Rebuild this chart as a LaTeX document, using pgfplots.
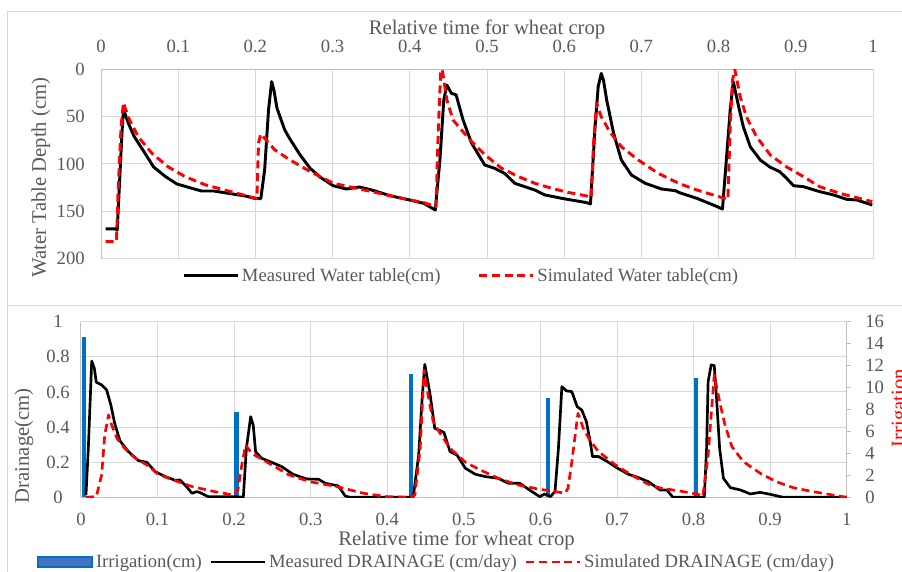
\documentclass[border=0pt]{standalone}
\usepackage{pgfplots}
\pgfplotsset{compat=1.18}
\usepackage{fontspec}
\setmainfont{Liberation Serif}

\definecolor{gridc}{HTML}{D9D9D9}
\definecolor{axc}{HTML}{BFBFBF}
\definecolor{txt}{HTML}{595959}
\definecolor{irr}{HTML}{0070C0}
\definecolor{irrfill}{HTML}{4472C4}

\pgfplotsset{
  base/.style={
    scale only axis, xmin=0, xmax=1,
    /pgf/number format/assume math mode=true,
    scaled ticks=false,
    tick label style={font=\fontsize{14}{16}\selectfont, text=txt, inner sep=0pt},
    label style={font=\fontsize{15.5}{18}\selectfont, text=txt},
    major tick length=0pt,
    axis line style={axc, line width=0.75pt},
    grid style={gridc, line width=0.75pt},
    legend style={draw=none, fill=none, font=\fontsize{14}{16}\selectfont,
      text=txt, legend columns=-1},
    legend cell align=left,
  },
  lineleg/.style={legend image code/.code={\draw[##1] (0pt,0pt) -- (40.5pt,0pt);}},
  meas/.style={black, line width=2.2pt, line join=round, lineleg},
  simu/.style={red, line width=2.2pt, dash pattern=on 6pt off 3.5pt, line join=round, lineleg},
}

\begin{document}
\begin{tikzpicture}
\useasboundingbox (0,0) rectangle (676.5pt,428.25pt);
\draw[gridc, line width=0.75pt] (5.25pt,419.5pt) -- (690pt,419.5pt);
\draw[gridc, line width=0.75pt] (5.25pt,419.5pt) -- (5.25pt,-5pt);
\draw[gridc, line width=0.75pt] (5.25pt,199pt) -- (690pt,199pt);

% top panel: water table depth
\begin{axis}[base,
  at={(365.25pt,305.25pt)}, anchor=center,
  width=579pt, height=142pt,
  ymin=0, ymax=200, y dir=reverse,
  axis x line*=top, axis y line*=left,
  grid=major,
  xtick={0,0.1,0.2,0.3,0.4,0.5,0.6,0.7,0.8,0.9,1},
  ytick={0,50,100,150,200},
  xticklabel style={yshift=12.5pt},
  yticklabel style={xshift=-12pt},
  xlabel={Relative time for wheat crop},
  xlabel style={at={(axis description cs:0.5,1.185)}, anchor=base},
  ylabel={Water Table Depth (cm)},
  ylabel style={at={(axis description cs:-0.0777,0.429)}, anchor=center},
  legend style={at={(axis description cs:0.467,-0.091)}, anchor=center,
    /tikz/every even column/.append style={column sep=26pt}},
]
\addplot[meas] coordinates {
(0.006,168.6) (0.019,168.6) (0.021,170) (0.024,120) (0.027,70) (0.029,42.3)
(0.036,58) (0.043,71) (0.057,88.7) (0.068,103) (0.083,113) (0.098,121)
(0.113,124.6) (0.130,128.5) (0.146,128.5) (0.165,131) (0.187,133.8) (0.199,136.3)
(0.207,136.6) (0.212,106) (0.217,43) (0.221,13) (0.224,22) (0.228,41.2)
(0.238,64) (0.245,74) (0.258,90.5) (0.271,104.6) (0.284,114) (0.301,123)
(0.318,126.4) (0.335,124.3) (0.353,128) (0.374,133.4) (0.396,137.3) (0.418,141.5)
(0.433,148.6) (0.439,96) (0.444,32.4) (0.448,16.6) (0.454,25.4) (0.460,27)
(0.469,53.5) (0.480,78) (0.497,101) (0.510,104.6) (0.523,110) (0.536,120.4)
(0.549,124) (0.562,127.5) (0.575,132.7) (0.597,136.3) (0.614,138.7) (0.629,140.8)
(0.634,142.2) (0.640,60.6) (0.644,18.3) (0.648,4.3) (0.651,12) (0.655,32.4)
(0.664,67.6) (0.674,95.8) (0.687,111.6) (0.705,120.4) (0.726,126.4) (0.744,128.2)
(0.750,130.5) (0.772,136.3) (0.793,143.3) (0.805,147.5) (0.810,95.8) (0.815,43)
(0.819,13) (0.826,39.5) (0.832,60.6) (0.841,81.7) (0.854,95.8) (0.867,103.5)
(0.879,108) (0.888,115) (0.897,122.9) (0.910,124) (0.931,129.2) (0.949,132.7)
(0.966,137.3) (0.979,138) (0.999,143.3)
};
\addlegendentry{Measured Water table(cm)}
\addplot[simu] coordinates {
(0.006,182) (0.020,182) (0.022,131) (0.026,60.6) (0.029,35.2) (0.035,50)
(0.048,71) (0.066,88.7) (0.087,103) (0.109,113.4) (0.135,122) (0.165,128.5)
(0.197,135.5) (0.202,136.3) (0.204,78) (0.207,68.3) (0.225,85) (0.245,95.8)
(0.271,108) (0.301,120.4) (0.331,125.7) (0.361,131) (0.396,137.3) (0.418,140.8)
(0.434,145) (0.437,60.6) (0.440,4) (0.442,0) (0.448,32.4) (0.456,53.5)
(0.469,66) (0.482,78) (0.497,90) (0.519,104.6) (0.541,113.4) (0.562,120.4)
(0.584,125.7) (0.605,130) (0.627,133.4) (0.635,135.2) (0.638,78) (0.642,35.9)
(0.648,50) (0.659,66) (0.674,81.7) (0.696,95.8) (0.722,110) (0.750,121)
(0.772,127.5) (0.793,132.7) (0.812,137.3) (0.815,60.6) (0.818,11.3) (0.821,0)
(0.828,29) (0.836,50) (0.849,71) (0.867,90.5) (0.888,103) (0.910,113.4)
(0.931,124) (0.957,131) (0.999,139.8)
};
\addlegendentry{Simulated Water table(cm)}
\end{axis}

% bottom panel: grid and left axis
\begin{axis}[base,
  at={(347.89pt,121.125pt)}, anchor=center,
  width=574.3pt, height=131.7pt,
  ymin=0, ymax=1,
  axis x line*=bottom, axis y line*=left,
  grid=major,
  xtick={0,0.1,0.2,0.3,0.4,0.5,0.6,0.7,0.8,0.9,1},
  ytick={0,0.2,0.4,0.6,0.8,1},
  xticklabel style={yshift=-12pt},
  yticklabel style={anchor=center, xshift=-17.25pt},
  xlabel={Relative time for wheat crop},
  xlabel style={at={(axis description cs:0.4904,-0.277)}, anchor=base},
  ylabel={Drainage(cm)},
  ylabel style={at={(axis description cs:-0.0744,0.293)}, anchor=center},
]
\end{axis}

% bottom panel: irrigation on the right axis
\begin{axis}[base,
  at={(347.89pt,121.125pt)}, anchor=center,
  width=574.3pt, height=131.7pt,
  ymin=0, ymax=16,
  axis x line=none, axis y line*=right,
  ytick={0,2,4,6,8,10,12,14,16},
  tick align=outside, major tick length=3.25pt,
  ytick style={axc, line width=0.75pt},
  yticklabel style={anchor=west, xshift=10.5pt},
  ylabel={Irrigation},
  ylabel style={text=red, at={(axis description cs:1.0767,0.508)}, anchor=base},
]
\addplot[ycomb, irr, line width=3.2pt, mark=none] coordinates {
(0.004,14.58) (0.203,7.8) (0.431,11.2) (0.610,9.08) (0.803,10.84)
};
\end{axis}

% bottom panel: drainage curves
\begin{axis}[base,
  at={(347.89pt,121.125pt)}, anchor=center,
  width=574.3pt, height=131.7pt,
  ymin=0, ymax=1, hide axis,
  legend style={at={(axis description cs:0.465,-0.368)}, anchor=center,
    /tikz/every even column/.append style={column sep=4pt}},
]
\addlegendimage{legend image code/.code={\draw[irr, fill=irrfill, line width=1.5pt] (0pt,-3.5pt) rectangle (40.5pt,3.5pt);}}
\addlegendentry{Irrigation(cm)}
\addplot[meas, line width=2pt] coordinates {
(0.0065,0.013) (0.0096,0.28) (0.014,0.776) (0.0174,0.735) (0.020,0.655) (0.027,0.64)
(0.0335,0.611) (0.039,0.526) (0.044,0.421) (0.051,0.321) (0.062,0.26) (0.075,0.209)
(0.086,0.199) (0.097,0.146) (0.110,0.118) (0.123,0.097) (0.129,0.099) (0.136,0.07)
(0.145,0.023) (0.151,0.032) (0.155,0.028) (0.166,0.004) (0.197,0.004) (0.208,0.002)
(0.212,0) (0.216,0.279) (0.2216,0.459) (0.225,0.41) (0.228,0.26) (0.236,0.222)
(0.247,0.203) (0.262,0.175) (0.277,0.131) (0.295,0.104) (0.310,0.103) (0.319,0.08)
(0.336,0.065) (0.345,0.008) (0.351,0) (0.430,0) (0.434,0.004) (0.441,0.241)
(0.4455,0.564) (0.449,0.757) (0.456,0.583) (0.462,0.393) (0.474,0.37) (0.482,0.26)
(0.491,0.241) (0.502,0.165) (0.515,0.131) (0.528,0.118) (0.545,0.108) (0.558,0.08)
(0.573,0.08) (0.589,0.032) (0.599,0.004) (0.606,0.019) (0.613,0.004) (0.619,0.032)
(0.6235,0.279) (0.628,0.63) (0.634,0.606) (0.641,0.602) (0.648,0.516) (0.654,0.497)
(0.660,0.431) (0.665,0.317) (0.668,0.232) (0.676,0.232) (0.689,0.199) (0.701,0.165)
(0.715,0.131) (0.728,0.112) (0.741,0.089) (0.756,0.042) (0.765,0.042) (0.773,0)
(0.814,0) (0.817,0.279) (0.819,0.659) (0.823,0.754) (0.827,0.75) (0.830,0.564)
(0.834,0.279) (0.839,0.108) (0.848,0.055) (0.861,0.042) (0.874,0.019) (0.887,0.028)
(0.900,0.017) (0.917,0) (1.0,0)
};
\addlegendentry{Measured DRAINAGE (cm/day)}
\addplot[simu, line width=2pt] coordinates {
(0.0065,0) (0.020,0.004) (0.027,0.127) (0.031,0.355) (0.036,0.469) (0.040,0.412)
(0.047,0.336) (0.057,0.279) (0.070,0.226) (0.086,0.184) (0.101,0.131) (0.123,0.095)
(0.145,0.061) (0.175,0.032) (0.199,0.013) (0.205,0.042) (0.210,0.184) (0.215,0.298)
(0.223,0.25) (0.247,0.19) (0.272,0.127) (0.299,0.089) (0.334,0.061) (0.369,0.023)
(0.399,0.004) (0.430,0) (0.436,0.013) (0.443,0.279) (0.448,0.725) (0.454,0.564)
(0.460,0.431) (0.469,0.364) (0.482,0.279) (0.502,0.2) (0.519,0.161) (0.545,0.108)
(0.571,0.07) (0.597,0.047) (0.615,0.036) (0.632,0.023) (0.636,0.051) (0.641,0.203)
(0.649,0.478) (0.656,0.393) (0.665,0.321) (0.676,0.26) (0.698,0.184) (0.719,0.127)
(0.741,0.074) (0.756,0.053) (0.782,0.036) (0.806,0.017) (0.812,0.004) (0.819,0.241)
(0.827,0.697) (0.834,0.545) (0.841,0.412) (0.850,0.289) (0.865,0.203) (0.887,0.137)
(0.908,0.089) (0.930,0.055) (0.956,0.032) (0.982,0.013) (1.0,0)
};
\addlegendentry{Simulated DRAINAGE (cm/day)}
\end{axis}
\end{tikzpicture}
\end{document}
